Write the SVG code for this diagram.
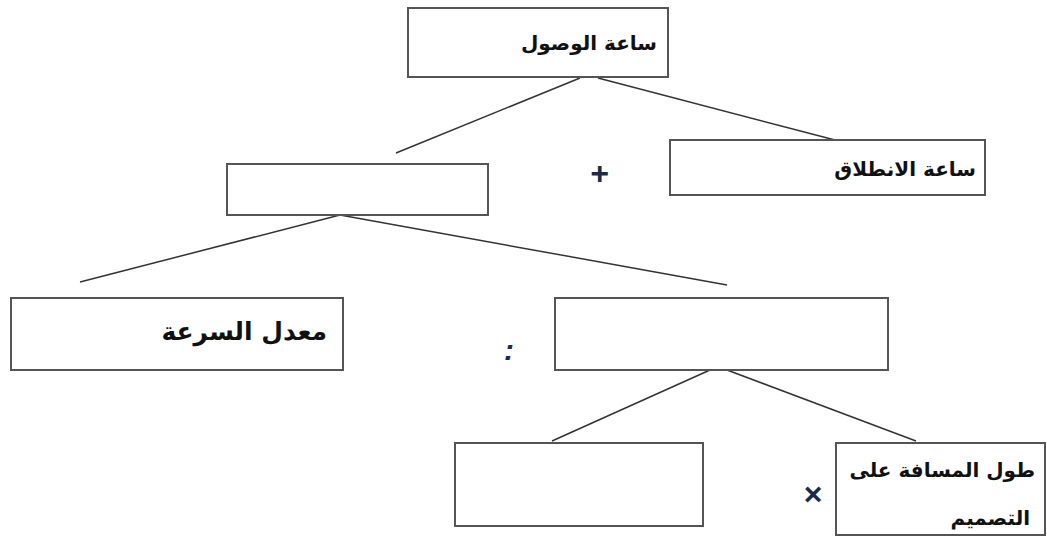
<svg xmlns="http://www.w3.org/2000/svg" width="1047" height="543" viewBox="0 0 1047 543">
<style>
.box{fill:#fff;stroke:#555;stroke-width:2}
.ln{stroke:#333;stroke-width:1.5;fill:none}
.t{font-family:"DejaVu Sans",sans-serif;font-weight:bold;fill:#111;text-anchor:end}
.op{font-family:"Liberation Sans",sans-serif;font-weight:bold;fill:#1c2a4a;text-anchor:middle}
</style>
<rect width="1047" height="543" fill="#fff"/>
<g id="connectors">
<line class="ln" x1="580" y1="78" x2="396" y2="153"/>
<line class="ln" x1="598" y1="78" x2="835" y2="140"/>
<line class="ln" x1="340" y1="215" x2="80" y2="282"/>
<line class="ln" x1="340" y1="215" x2="727" y2="285"/>
<line class="ln" x1="710" y1="370" x2="552" y2="441"/>
<line class="ln" x1="727" y1="370" x2="916" y2="441"/>
</g>
<g id="arrival"><rect class="box" x="408" y="8" width="260" height="69"/><text class="t" x="657" y="50" font-size="20">ساعة الوصول</text></g>
<g id="mid"><rect class="box" x="227" y="164" width="261" height="51"/></g>
<g id="departure"><rect class="box" x="670" y="140" width="315" height="55"/><text class="t" x="976" y="176" font-size="20">ساعة الانطلاق</text></g>
<g id="speed"><rect class="box" x="11" y="298" width="332" height="72"/><text class="t" x="327" y="340" font-size="25">معدل السرعة</text></g>
<g id="div"><rect class="box" x="555" y="298" width="333" height="72"/></g>
<g id="empty"><rect class="box" x="455" y="443" width="248" height="83"/></g>
<g id="length"><rect class="box" x="836" y="443" width="209" height="92"/><text class="t" x="1035" y="477" font-size="20">طول المسافة على</text><text class="t" x="1030" y="525" font-size="20">التصميم</text></g>
<g id="ops">
<text class="op" x="599" y="184" font-size="32" font-style="italic">+</text>
<text class="op" x="509" y="360" font-size="30" font-style="italic">:</text>
<text class="op" x="813" y="505" font-size="32">×</text>
</g>
</svg>
